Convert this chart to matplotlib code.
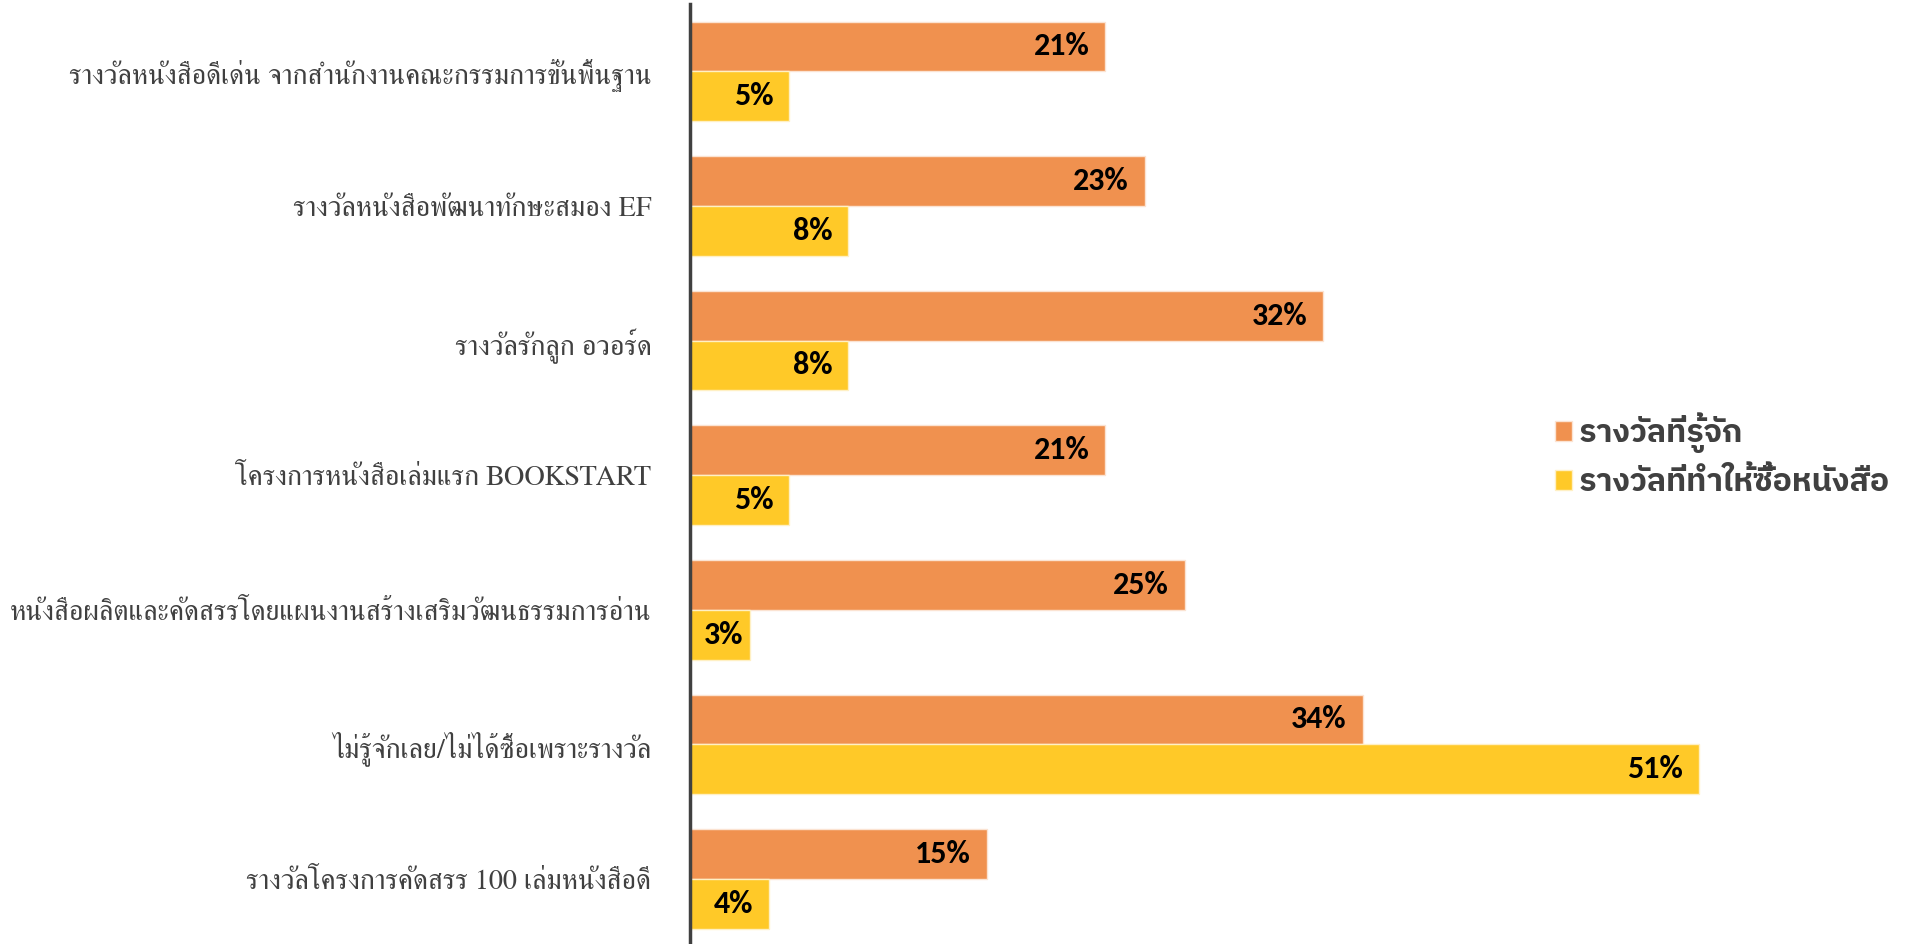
import matplotlib
matplotlib.use("Agg")
import matplotlib.pyplot as plt
from matplotlib.patches import Patch
import numpy as np

categories = [
    "รางวัลหนังสือดีเด่น จากสำนักงานคณะกรรมการขั้นพื้นฐาน",
    "รางวัลหนังสือพัฒนาทักษะสมอง EF",
    "รางวัลรักลูก อวอร์ด",
    "โครงการหนังสือเล่มแรก BOOKSTART",
    "หนังสือผลิตและคัดสรรโดยแผนงานสร้างเสริมวัฒนธรรมการอ่าน",
    "ไม่รู้จักเลย/ไม่ได้ซื้อเพราะรางวัล",
    "รางวัลโครงการคัดสรร 100 เล่มหนังสือดี",
]
known = [21, 23, 32, 21, 25, 34, 15]
bought = [5, 8, 8, 5, 3, 51, 4]
series_names = ["รางวัลที่รู้จัก", "รางวัลที่ทำให้ซื้อหนังสือ"]

ORANGE = "#F0914F"
YELLOW = "#FFC928"
GREY = "#404040"
LABEL_FONT = ["FreeSerif", "Noto Serif Thai", "DejaVu Serif"]
LEGEND_FONT = ["IBM Plex Sans Thai", "Noto Sans Thai", "DejaVu Sans"]
VALUE_FONT = ["Carlito", "Liberation Sans", "DejaVu Sans"]

fig = plt.figure(figsize=(19.12, 9.44), dpi=100)
ax = fig.add_axes([0.361, 0.0, 0.545, 0.996])

y = np.arange(len(categories))
h = 0.37
bars_k = ax.barh(y - h / 2, known, height=h, color=ORANGE, edgecolor="#FBE3D2", linewidth=1)
bars_b = ax.barh(y + h / 2, bought, height=h, color=YELLOW, edgecolor="#FFF0C4", linewidth=1)

ax.set_ylim(6.483, -0.502)
ax.set_xlim(0, 52.7)
ax.set_yticks(y)
ax.set_yticklabels(categories, family=LABEL_FONT, fontsize=20.3, color=GREY)
ax.tick_params(axis="y", length=0, pad=28)
ax.set_xticks([])
for side in ["top", "right", "bottom"]:
    ax.spines[side].set_visible(False)
ax.spines["left"].set_color(GREY)
ax.spines["left"].set_linewidth(2.5)

# value labels sit inside the bar end, nudged right when the bar is too short
fig.canvas.draw()
renderer = fig.canvas.get_renderer()
to_px = ax.transData
for bars, vals in [(bars_k, known), (bars_b, bought)]:
    for bar, v in zip(bars, vals):
        yc = bar.get_y() + bar.get_height() / 2
        t = ax.text(v, yc, f"{v}%", ha="right", va="center", family=VALUE_FONT,
                    fontsize=23, fontweight="bold", color="black")
        w = t.get_window_extent(renderer).width
        x_end = to_px.transform((v, yc))[0] - 16
        x_min = to_px.transform((0, yc))[0] + 14 + w
        xr = max(x_end, x_min)
        t.set_x(to_px.inverted().transform((xr, 0))[0])

handles = [Patch(facecolor=ORANGE, edgecolor="#FBE3D2"), Patch(facecolor=YELLOW, edgecolor="#FFF0C4")]
leg = fig.legend(handles, series_names, loc="center left", bbox_to_anchor=(0.798, 0.518),
                 frameon=False, handlelength=0.55, handleheight=0.55, handletextpad=0.2,
                 labelspacing=0.45, prop={"family": LEGEND_FONT, "size": 23, "weight": "bold"})
for txt in leg.get_texts():
    txt.set_color(GREY)

fig.savefig("out.png")
